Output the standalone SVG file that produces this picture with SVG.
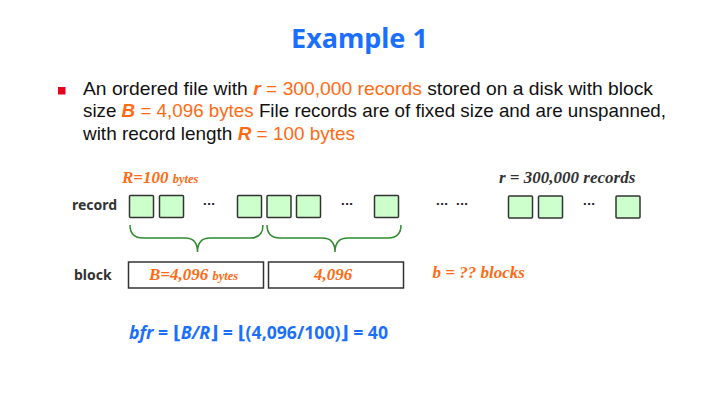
<svg xmlns="http://www.w3.org/2000/svg" width="714" height="406" viewBox="0 0 714 406">
<style>
.title{font-family:"Noto Sans","DejaVu Sans",sans-serif;font-weight:bold;font-size:27px;fill:#1B6FFF}
.body{font-family:"Liberation Sans",Arial,sans-serif;font-size:18.5px;fill:#111}
.o{fill:#FF6A13}
.bi{font-weight:bold;font-style:italic}
.lbl{font-family:"Noto Sans","DejaVu Sans",sans-serif;font-weight:bold;font-size:14px;fill:#333}
.ser{font-family:"Liberation Serif","Times New Roman",serif;font-weight:bold;font-style:italic;font-size:17px}
.sm{font-size:12.5px}
.rec{fill:#CCFFCC;stroke:#333;stroke-width:1.5}
.blk{fill:#fff;stroke:#333;stroke-width:1.5}
.dots{font-family:"DejaVu Sans",sans-serif;font-size:11px;font-weight:bold;fill:#223}
.brace{fill:none;stroke:#2E8B2E;stroke-width:1.5}
.bfr{font-family:"Noto Sans","DejaVu Sans",sans-serif;font-weight:bold;font-size:18px;fill:#1B6FFF}
</style>
<rect width="714" height="406" fill="#fff"/>
<text class="title" x="359.5" y="48" text-anchor="middle">Example 1</text>
<g id="bullet">
<rect x="58" y="87" width="7.5" height="7.5" fill="#E8001C"/>
<text class="body" x="83" y="95" textLength="570" lengthAdjust="spacingAndGlyphs">An ordered file with <tspan class="o bi">r</tspan><tspan class="o"> = 300,000 records</tspan> stored on a disk with block</text>
<text class="body" x="83" y="117" textLength="583" lengthAdjust="spacingAndGlyphs">size <tspan class="o bi">B</tspan><tspan class="o"> = 4,096 bytes</tspan> File records are of fixed size and are unspanned,</text>
<text class="body" x="83" y="139.5" textLength="272" lengthAdjust="spacingAndGlyphs">with record length <tspan class="o bi">R</tspan><tspan class="o"> = 100 bytes</tspan></text>
</g>
<g id="labels">
<text class="ser o" x="122" y="182.5">R=100 <tspan class="sm">bytes</tspan></text>
<text class="ser" x="499" y="183" fill="#333">r = 300,000 records</text>
<text class="lbl" x="72" y="210">record</text>
<text class="lbl" x="74" y="280">block</text>
<text class="ser o" x="432.5" y="278" font-size="16.5">b = ?? blocks</text>
</g>
<g id="records">
<rect class="rec" x="129.5" y="195.5" width="24" height="22" rx="1"/>
<rect class="rec" x="159.5" y="195.5" width="24" height="22" rx="1"/>
<text class="dots" x="209" y="205" text-anchor="middle">...</text>
<rect class="rec" x="237.5" y="195.5" width="24" height="22" rx="1"/>
<rect class="rec" x="267" y="195.5" width="24" height="22" rx="1"/>
<rect class="rec" x="296.5" y="195.5" width="24" height="22" rx="1"/>
<text class="dots" x="347" y="205" text-anchor="middle">...</text>
<rect class="rec" x="374.5" y="195.5" width="24" height="22" rx="1"/>
<text class="dots" x="442" y="205" text-anchor="middle">...</text>
<text class="dots" x="462" y="205" text-anchor="middle">...</text>
<rect class="rec" x="508.5" y="196" width="24" height="22" rx="1"/>
<rect class="rec" x="538.5" y="196" width="24" height="22" rx="1"/>
<text class="dots" x="589" y="205" text-anchor="middle">...</text>
<rect class="rec" x="616" y="196" width="24" height="22" rx="1"/>
</g>
<g id="connectors">
<path class="brace" d="M130,225 Q130,238 143,238 L185,238 Q197.5,238 197.5,252 Q197.5,238 210,238 L250,238 Q263,238 263,225"/>
<path class="brace" d="M267,225 Q267,238 280,238 L322,238 Q335,238 335,252 Q335,238 348,238 L388,238 Q401,238 401,225"/>
</g>
<g id="block1">
<rect class="blk" x="128.5" y="262" width="135" height="26"/>
<text class="ser o" x="149" y="280">B=4,096 <tspan class="sm">bytes</tspan></text>
</g>
<g id="block2">
<rect class="blk" x="268.5" y="262" width="135" height="26"/>
<text class="ser o" x="333" y="280" text-anchor="middle">4,096</text>
</g>
<text class="bfr" x="129" y="339" textLength="259" lengthAdjust="spacingAndGlyphs"><tspan font-style="italic">bfr</tspan> = ⌊<tspan font-style="italic">B/R</tspan>⌋ = ⌊(4,096/100)⌋ = 40</text>
</svg>
